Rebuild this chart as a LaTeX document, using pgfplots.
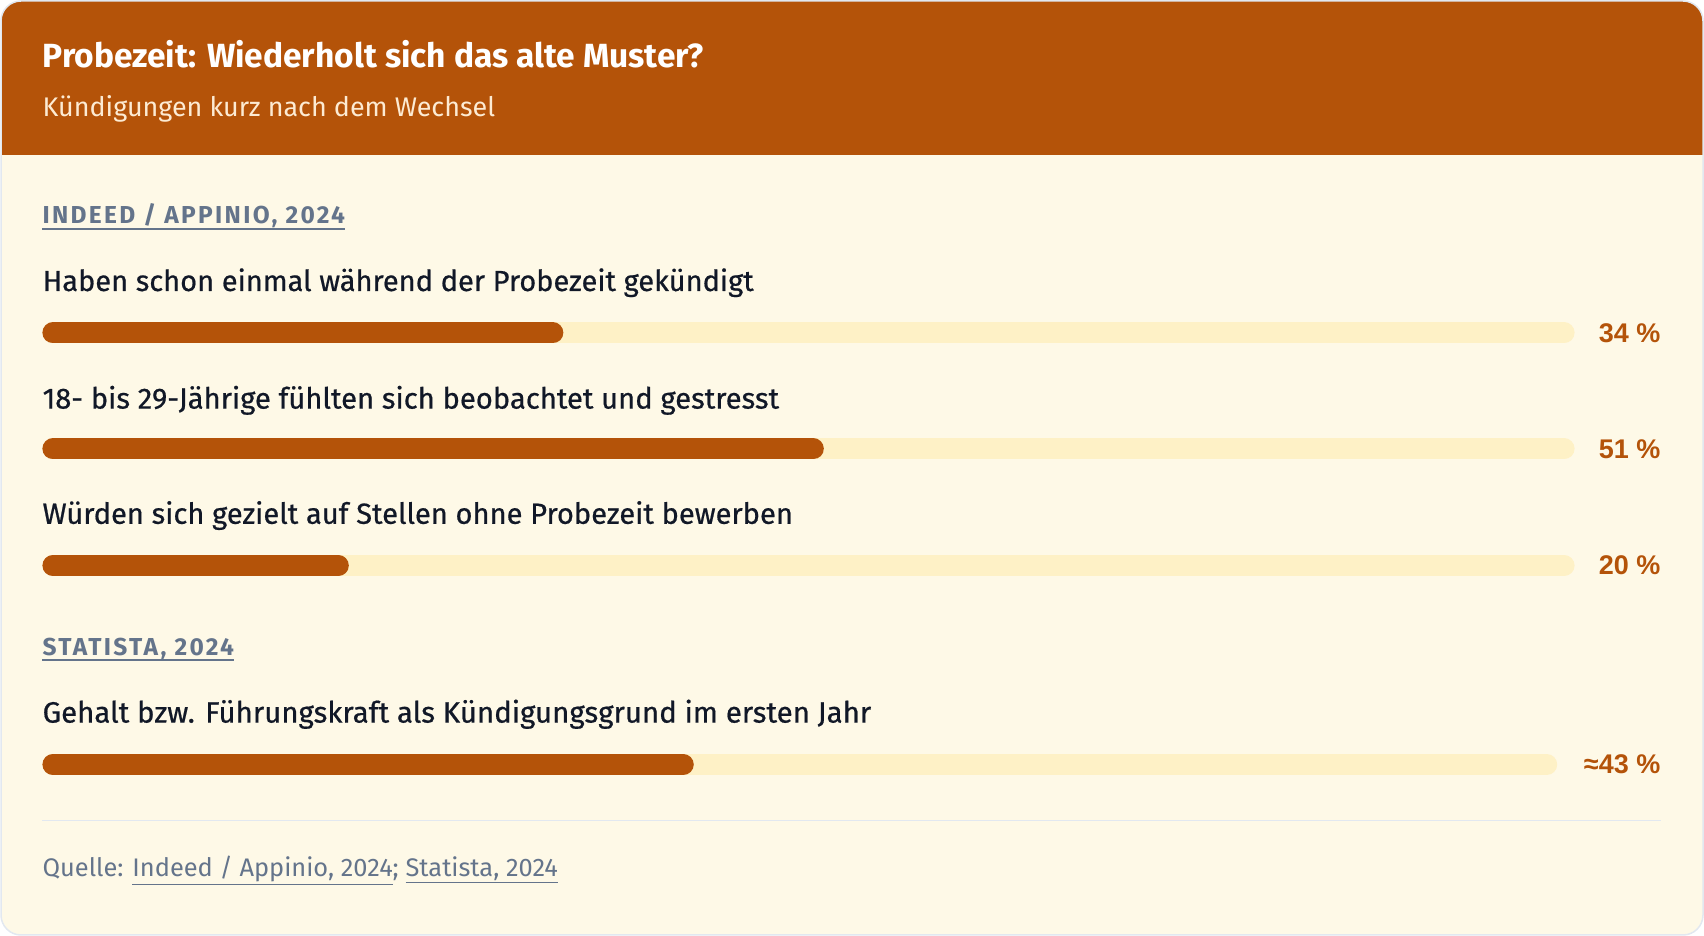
\documentclass[border=0pt]{standalone}
\usepackage{pgfplots}
\pgfplotsset{compat=1.18}
\usepackage{fontspec}
\setmainfont{Fira Sans}
\newfontfamily\medfont{Fira Sans}[FakeBold=0.6]
\newfontfamily\valfont{Liberation Sans}
\definecolor{hdr}{HTML}{B45309}
\definecolor{cardbg}{HTML}{FEF9E7}
\definecolor{track}{HTML}{FEF1C6}
\definecolor{bordercol}{HTML}{E2E8F0}
\definecolor{slate}{HTML}{64748B}
\definecolor{ink}{HTML}{111827}
\definecolor{subcol}{HTML}{FDEBD3}

\begin{document}
\begin{tikzpicture}[x=1pt,y=1pt]
\path[use as bounding box] (0,0) rectangle (1704,936);
\fill[cardbg, rounded corners=20pt] (1,1) rectangle (1703,935);
\fill[hdr] (1,781) [rounded corners=20pt] -- (1,935) -- (1703,935) [sharp corners] -- (1703,781) -- cycle;
\draw[bordercol, line width=1.5pt, rounded corners=20pt] (1,1) rectangle (1703,935);

% header
\node[anchor=base west, inner sep=0, text=white] at (42.4,868.6) {\fontsize{33.5}{38}\selectfont\bfseries Probezeit: Wiederholt sich das alte Muster?};
\node[anchor=base west, inner sep=0, text=subcol] at (42.4,819.5) {\fontsize{26.9}{30}\selectfont Kündigungen kurz nach dem Wechsel};

% section labels
\coordinate (u1) at (0,707);
\coordinate (u2) at (0,276);
\node[anchor=base west, inner sep=0, text=slate] (s1) at (42.4,712) {\fontsize{24.5}{28}\selectfont\bfseries\addfontfeatures{LetterSpace=9.5}INDEED / APPINIO, 2024};
\draw[slate, line width=2pt] (s1.west |- u1) -- (s1.east |- u1);
\node[anchor=base west, inner sep=0, text=slate] (s2) at (42.4,280.7) {\fontsize{24.5}{28}\selectfont\bfseries\addfontfeatures{LetterSpace=9.5}STATISTA, 2024};
\draw[slate, line width=2pt] (s2.west |- u2) -- (s2.east |- u2);

% row labels
\node[anchor=base west, inner sep=0, text=ink] at (42.4,645) {\medfont\fontsize{29}{33}\selectfont Haben schon einmal während der Probezeit gekündigt};
\node[anchor=base west, inner sep=0, text=ink] at (42.4,527.4) {\medfont\fontsize{29.2}{33}\selectfont 18- bis 29-Jährige fühlten sich beobachtet und gestresst};
\node[anchor=base west, inner sep=0, text=ink] at (42.4,412.2) {\medfont\fontsize{29.1}{33}\selectfont Würden sich gezielt auf Stellen ohne Probezeit bewerben};
\node[anchor=base west, inner sep=0, text=ink] at (42.4,213.4) {\medfont\fontsize{29.4}{33}\selectfont Gehalt bzw. Führungskraft als Kündigungsgrund im ersten Jahr};

% value labels
\node[anchor=east, inner sep=0, text=hdr] at (1660.5,603) {\valfont\fontsize{27}{30}\selectfont\bfseries 34 \%};
\node[anchor=east, inner sep=0, text=hdr] at (1660.5,487) {\valfont\fontsize{27}{30}\selectfont\bfseries 51 \%};
\node[anchor=east, inner sep=0, text=hdr] at (1660.5,370.4) {\valfont\fontsize{27}{30}\selectfont\bfseries 20 \%};
\node[anchor=east, inner sep=0, text=hdr] at (1660.5,171.5) {\valfont\fontsize{27}{30}\selectfont\bfseries ≈43 \%};

% separator and footer
\draw[bordercol, line width=1.5pt] (42.4,115.5) -- (1660.5,115.5);
\node[anchor=base west, inner sep=0, text=slate] at (42.4,59) {\fontsize{25.4}{29}\selectfont Quelle: \underline{Indeed / Appinio, 2024}; \underline{Statista, 2024}};

% bars: first group
\begin{axis}[at={(42.4pt,0pt)}, anchor=south west, scale only axis,
  width=1532.2pt, height=936pt, xmin=0, xmax=100, ymin=0, ymax=936,
  axis lines=none, clip=false]
\addplot[draw=track, line width=21pt, line cap=round, shorten <=10.5pt, shorten >=10.5pt] coordinates {(0,603) (100,603)};
\addplot[draw=track, line width=21pt, line cap=round, shorten <=10.5pt, shorten >=10.5pt] coordinates {(0,487) (100,487)};
\addplot[draw=track, line width=21pt, line cap=round, shorten <=10.5pt, shorten >=10.5pt] coordinates {(0,370.4) (100,370.4)};
\addplot[draw=hdr, line width=21pt, line cap=round, shorten <=10.5pt, shorten >=10.5pt] coordinates {(0,603) (34,603)};
\addplot[draw=hdr, line width=21pt, line cap=round, shorten <=10.5pt, shorten >=10.5pt] coordinates {(0,487) (51,487)};
\addplot[draw=hdr, line width=21pt, line cap=round, shorten <=10.5pt, shorten >=10.5pt] coordinates {(0,370.4) (20,370.4)};
\end{axis}

% bars: second group
\begin{axis}[at={(42.4pt,0pt)}, anchor=south west, scale only axis,
  width=1514.8pt, height=936pt, xmin=0, xmax=100, ymin=0, ymax=936,
  axis lines=none, clip=false]
\addplot[draw=track, line width=21pt, line cap=round, shorten <=10.5pt, shorten >=10.5pt] coordinates {(0,171.5) (100,171.5)};
\addplot[draw=hdr, line width=21pt, line cap=round, shorten <=10.5pt, shorten >=10.5pt] coordinates {(0,171.5) (43,171.5)};
\end{axis}
\end{tikzpicture}
\end{document}
